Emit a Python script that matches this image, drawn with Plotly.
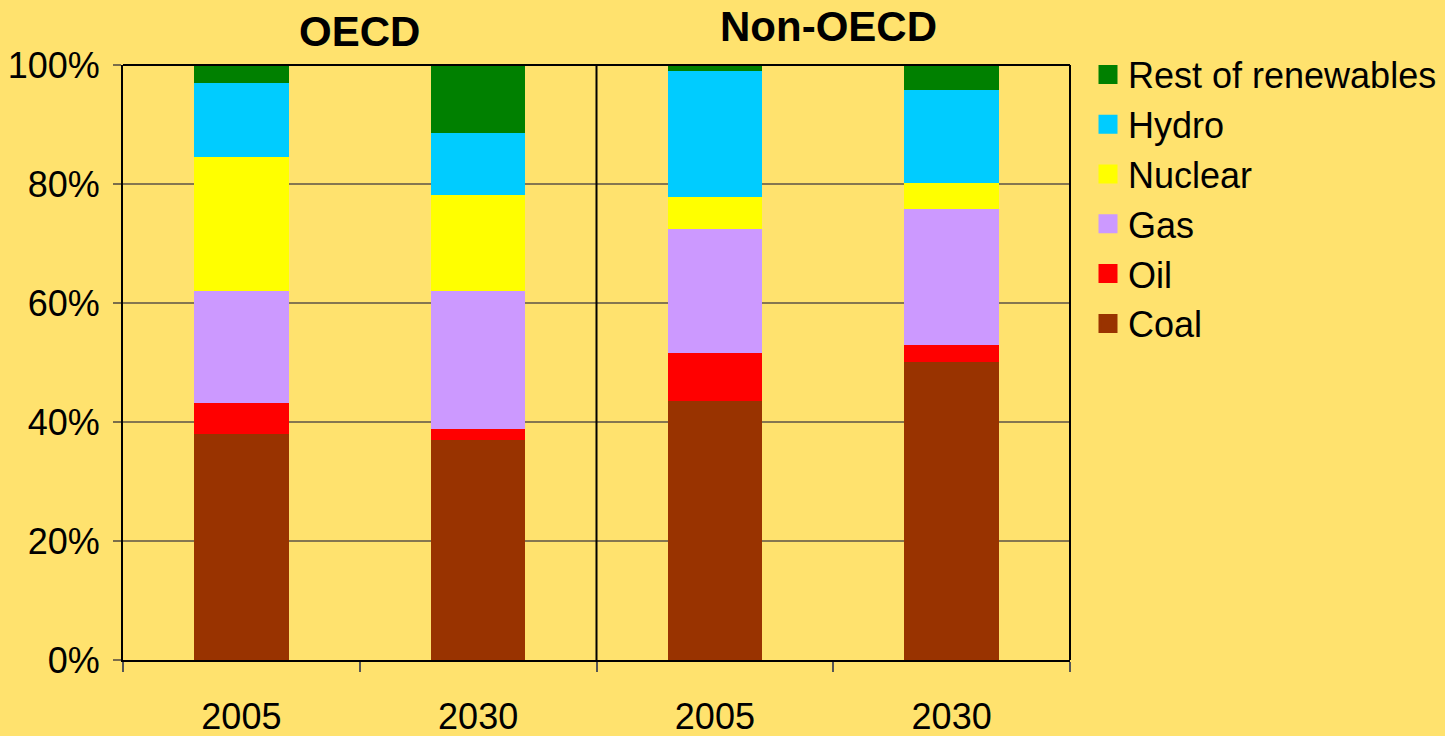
import plotly.graph_objects as go

categories = ["OECD 2005", "OECD 2030", "Non-OECD 2005", "Non-OECD 2030"]
tick_labels = ["2005", "2030", "2005", "2030"]
group_titles = ["OECD", "Non-OECD"]
y_ticks = [0, 20, 40, 60, 80, 100]
y_tick_labels = ["0%", "20%", "40%", "60%", "80%", "100%"]

series_names = ["Coal", "Oil", "Gas", "Nuclear", "Hydro", "Rest of renewables"]
coal = [38.0, 37.0, 43.5, 50.1]
oil = [5.2, 1.8, 8.1, 2.8]
gas = [18.8, 23.2, 20.8, 22.9]
nuclear = [22.5, 16.2, 5.4, 4.4]
hydro = [12.5, 10.4, 21.2, 15.6]
rest = [3.0, 11.4, 1.0, 4.2]
series_values = [coal, oil, gas, nuclear, hydro, rest]
colors = ["#993300", "#FF0000", "#CC99FF", "#FFFF00", "#00CCFF", "#008000"]

BG = "#FFE26E"
FONT = "Liberation Sans Narrow, Arial Narrow, Liberation Sans, Arial, sans-serif"
FS = 36

fig = go.Figure()
for name, vals, col in zip(series_names, series_values, colors):
    fig.add_trace(go.Bar(x=categories, y=vals, name=name, marker=dict(color=col, line=dict(width=0)),
                         legendgroup=name, showlegend=False))
for name, col in zip(series_names, colors):
    fig.add_trace(go.Scatter(x=[None], y=[None], mode="markers", name=name, legendgroup=name,
                             marker=dict(symbol="square", size=16, color=col, line=dict(width=3, color=col))))

fig.update_layout(
    barmode="stack",
    bargap=0.6,
    width=1445, height=736,
    margin=dict(l=123, r=375, t=65, b=76, autoexpand=False),
    paper_bgcolor=BG, plot_bgcolor=BG,
    font=dict(family=FONT, size=FS, color="black"),
    legend=dict(xref="container", yref="container", x=1088 / 1445, xanchor="left",
                y=1 - 44.5 / 736, yanchor="top", traceorder="reversed",
                bgcolor="rgba(0,0,0,0)", font=dict(size=36, family=FONT), itemsizing="trace"),
    showlegend=True,
)
fig.update_xaxes(
    type="category", categoryorder="array", categoryarray=categories,
    tickvals=categories, ticktext=tick_labels, tickson="boundaries",
    ticks="outside", ticklen=10, tickcolor="#555555", tickwidth=1.5,
    showline=True, linecolor="black", linewidth=2, showgrid=False, automargin=False,
    ticklabelstandoff=24, tickfont=dict(size=FS, family=FONT), fixedrange=True,
)
fig.update_yaxes(
    range=[0, 100], tickmode="array", tickvals=y_ticks, ticktext=y_tick_labels,
    ticks="outside", ticklen=8, tickcolor="#7a6d4a", tickwidth=1.5,
    showline=True, linecolor="black", linewidth=2, automargin=False,
    showgrid=True, gridcolor="#857650", gridwidth=1.5,
    ticklabelstandoff=6, tickfont=dict(size=FS, family=FONT), zeroline=False,
)

# frame top / right and middle separator
fig.add_shape(type="line", xref="paper", yref="paper", x0=0, x1=1, y0=1, y1=1, line=dict(color="black", width=2))
fig.add_shape(type="line", xref="paper", yref="paper", x0=1, x1=1, y0=0, y1=1, line=dict(color="black", width=2))
fig.add_shape(type="line", xref="x", yref="paper", x0=1.5, x1=1.5, y0=0, y1=1, line=dict(color="black", width=2))

fig.add_annotation(text="<b>%s</b>" % group_titles[0], xref="x", yref="paper", x=0.5, y=1.0555,
                   yanchor="middle", showarrow=False,
                   font=dict(family="Liberation Sans, Arial, sans-serif", size=42, color="black"))
fig.add_annotation(text="<b>%s</b>" % group_titles[1], xref="x", yref="paper", x=2.48, y=1.0655,
                   yanchor="middle", showarrow=False,
                   font=dict(family="Liberation Sans, Arial, sans-serif", size=42, color="black"))

fig.write_html("out.html")
